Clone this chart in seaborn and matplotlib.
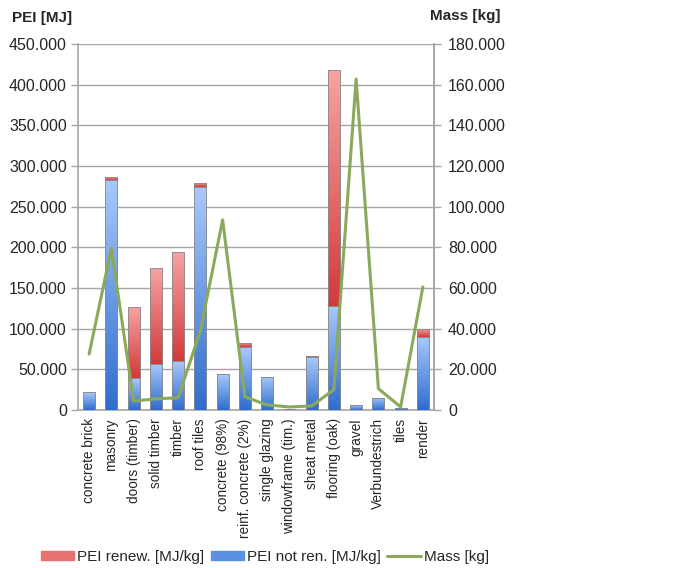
import numpy as np
import pandas as pd
import matplotlib
matplotlib.use("Agg")
import matplotlib.pyplot as plt
import seaborn as sns
from matplotlib.colors import LinearSegmentedColormap
from matplotlib.ticker import FuncFormatter, FixedLocator
from matplotlib.patches import Patch
from matplotlib.lines import Line2D

categories = ["concrete brick", "masonry", "doors (timber)", "solid timber", "timber",
              "roof tiles", "concrete (98%)", "reinf. concrete (2%)", "single glazing",
              "windowframe (tim.)", "sheat metal", "flooring (oak)", "gravel",
              "Verbundestrich", "tiles", "render"]
pei_not_ren = [22000, 283000, 39000, 57000, 60000, 274000, 44000, 77000, 41000,
               500, 65000, 128000, 6000, 15000, 2500, 90000]
pei_renew = [0, 3000, 88000, 118000, 134000, 5000, 0, 5000, 0,
             800, 1500, 290000, 0, 0, 0, 10000]
mass = [27500, 79500, 4400, 5500, 6000, 39000, 93500, 6500, 2500,
        1500, 2000, 10000, 162800, 10500, 1500, 60500]

left_ticks = [0, 50000, 100000, 150000, 200000, 250000, 300000, 350000, 400000, 450000]
right_ticks = [0, 20000, 40000, 60000, 80000, 100000, 120000, 140000, 160000, 180000]

df = pd.DataFrame({"cat": categories, "blue": pei_not_ren, "red": pei_renew, "mass": mass})

sns.set_style("white")
plt.rcParams["font.family"] = ["Liberation Sans", "DejaVu Sans"]

fig = plt.figure(figsize=(6.88, 5.68), dpi=100)
ax = fig.add_axes([78/688, 1-410/568, (434-78)/688, (410-44)/568])

grid_col = "#a6a6a6"
BW = 0.55
sns.barplot(data=df, x="cat", y="blue", ax=ax, color="#5b8fe0", width=BW,
            edgecolor="#8a8a8a", linewidth=0.6, zorder=3)
n_blue = len(ax.patches)
sns.barplot(data=df, x="cat", y="red", ax=ax, color="#e06060", width=BW,
            bottom=df["blue"].to_numpy(), edgecolor="#8a8a8a", linewidth=0.6, zorder=3)
blue_patches = ax.patches[:n_blue]
red_patches = ax.patches[n_blue:]

def gradient_fill(axis, patches, top_col, bot_col):
    cmap = LinearSegmentedColormap.from_list("g", [bot_col, top_col])
    grad = np.linspace(0, 1, 256).reshape(-1, 1)
    for p in patches:
        x0, y0 = p.get_x(), p.get_y()
        w, h = p.get_width(), p.get_height()
        if h <= 0:
            continue
        im = axis.imshow(grad, extent=[x0, x0 + w, y0, y0 + h], origin="lower",
                         cmap=cmap, aspect="auto", zorder=2.9, interpolation="bilinear")
        im.set_clip_path(p)
        p.set_facecolor("none")

gradient_fill(ax, blue_patches, "#a9c9fb", "#2f6dcc")
gradient_fill(ax, red_patches, "#f7a3a3", "#d23a3a")

n = len(categories)
ax.set_xlim(-0.5, n - 0.5)
ax.set_ylim(0, 450000)
ax.yaxis.set_major_locator(FixedLocator(left_ticks))
fmt = FuncFormatter(lambda v, p: f"{v:,.0f}".replace(",", "."))
ax.yaxis.set_major_formatter(fmt)
ax.grid(axis="y", color=grid_col, linewidth=1.0, zorder=0)
ax.set_axisbelow(True)
ax.set_xlabel("")
ax.set_ylabel("")
ax.set_xticks(np.arange(n))
ax.set_xticklabels(categories, rotation=90, fontsize=9.8)
ax.set_xticks(np.arange(n + 1) - 0.5, minor=True)
ax.tick_params(axis="x", which="major", length=0, pad=6)
ax.tick_params(axis="x", which="minor", length=4, color=grid_col, width=1)
ax.tick_params(axis="y", length=5, color=grid_col, width=1, labelsize=11.5, pad=3, left=True)
ax.spines["top"].set_visible(False)
for s in ["left", "right", "bottom"]:
    ax.spines[s].set_color(grid_col)
    ax.spines[s].set_linewidth(1.2)

ax2 = ax.twinx()
sns.lineplot(x=np.arange(n), y=df["mass"].to_numpy(), ax=ax2, color="#8aa95c",
             linewidth=2.2, zorder=5)
ax2.set_ylim(0, 180000)
ax2.yaxis.set_major_locator(FixedLocator(right_ticks))
ax2.yaxis.set_major_formatter(fmt)
ax2.tick_params(axis="y", length=5, color=grid_col, width=1, labelsize=11.5, pad=5, right=True)
for s in ["top", "left", "bottom"]:
    ax2.spines[s].set_visible(False)
ax2.spines["right"].set_color(grid_col)
ax2.spines["right"].set_linewidth(1.2)
ax2.set_ylabel("")
ax2.grid(False)

fig.text(12/688, 1-18/568, "PEI [MJ]", fontsize=11, fontweight="bold", va="center", ha="left")
fig.text(430/688, 1-16/568, "Mass [kg]", fontsize=11, fontweight="bold", va="center", ha="left")

handles = [Patch(facecolor="#e87272", edgecolor="#e87272"),
           Patch(facecolor="#5b8fe0", edgecolor="#5b8fe0"),
           Line2D([0], [0], color="#8aa95c", linewidth=2.2)]
labels = ["PEI renew. [MJ/kg]", "PEI not ren. [MJ/kg]", "Mass [kg]"]
fig.legend(handles, labels, loc="center", bbox_to_anchor=(265/688, 1-557/568), ncol=3,
           frameon=False, fontsize=11, handlelength=2.2, handleheight=0.6,
           columnspacing=0.4, handletextpad=0.2)

fig.savefig("out.png", dpi=100)
